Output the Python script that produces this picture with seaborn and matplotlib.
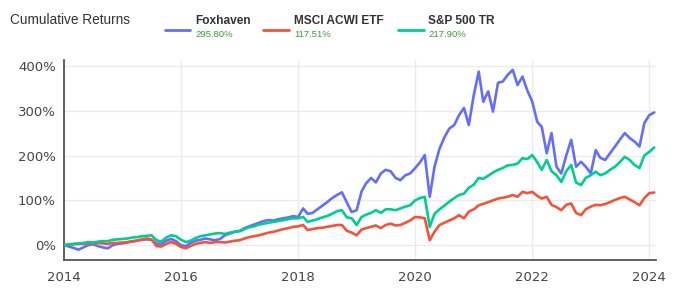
import numpy as np
import pandas as pd
import matplotlib
matplotlib.use("Agg")
import matplotlib.pyplot as plt
import matplotlib.dates as mdates
from matplotlib.lines import Line2D
from matplotlib.ticker import FuncFormatter
import seaborn as sns

# ---- data (monthly, % cumulative return) ----
dates = pd.date_range("2014-01-01", "2024-02-01", freq="MS")

foxhaven = [
    0, -3, -6, -10, -5, 0, 2, -2, -5, -7, 0, 3,            # 2014
    4, 6, 8, 10, 12, 13, 12, 4, 3, 10, 14, 9,              # 2015
    0, -2, 5, 10, 12, 15, 13, 11, 14, 22, 26, 30,          # 2016
    32, 38, 42, 46, 50, 54, 56, 55, 58, 60, 62, 65,        # 2017
    63, 82, 70, 72, 80, 88, 96, 105, 112, 118, 95, 74,     # 2018
    78, 120, 138, 150, 140, 160, 168, 165, 150, 145, 156, 160,  # 2019
    172, 185, 201, 108, 175, 215, 240, 260, 268, 290, 306, 268,  # 2020
    335, 387, 320, 343, 298, 362, 365, 380, 391, 357, 376, 345,  # 2021
    320, 275, 264, 205, 250, 175, 160, 200, 235, 175, 186, 175,  # 2022
    160, 212, 195, 190, 205, 220, 235, 250, 239, 231, 220, 272,  # 2023
    290, 296,                                               # 2024
]
msci_acwi = [
    0, 1, 2, 3, 3, 4, 3, 5, 4, 3, 5, 5,
    6, 7, 9, 10, 13, 15, 13, -2, -3, 3, 7, 3,
    -4, -7, -2, 3, 5, 7, 5, 7, 7, 6, 8, 10,
    11, 15, 18, 20, 22, 25, 28, 30, 33, 36, 38, 41,
    42, 45, 34, 36, 38, 39, 41, 43, 45, 45, 32, 28,
    22, 35, 38, 41, 44, 38, 45, 48, 44, 45, 50, 55,
    63, 62, 60, 11, 30, 45, 50, 55, 60, 67, 60, 75,
    80, 89, 92, 96, 100, 104, 106, 108, 112, 108, 119, 116,
    119, 110, 104, 108, 90, 85, 78, 90, 93, 72, 67, 80,
    86, 90, 89, 92, 96, 101, 105, 108, 102, 96, 89, 105,
    116, 117.5,
]
sp500_tr = [
    0, 2, 3, 4, 5, 7, 6, 8, 9, 9, 12, 13,
    14, 15, 17, 18, 20, 21, 22, 11, 8, 17, 22, 20,
    12, 7, 10, 16, 20, 22, 24, 26, 27, 25, 28, 30,
    31, 36, 40, 42, 46, 48, 50, 52, 54, 56, 58, 60,
    60, 63, 52, 55, 58, 62, 65, 70, 76, 78, 62, 60,
    45, 63, 68, 72, 78, 72, 80, 80, 78, 82, 86, 89,
    100, 105, 108, 41, 70, 80, 88, 97, 105, 112, 115, 128,
    135, 150, 148, 155, 162, 168, 172, 178, 179, 182, 194, 192,
    201, 185, 168, 190, 165, 156, 141, 165, 179, 140, 134, 150,
    156, 164, 156, 160, 168, 175, 185, 197, 190, 179, 172, 200,
    208, 217.9,
]
series_names = ["Foxhaven", "MSCI ACWI ETF", "S&P 500 TR"]
final_labels = ["295.80%", "117.51%", "217.90%"]
colors = ["#636efa", "#ef553b", "#00cc96"]
year_ticks = [2014, 2016, 2018, 2020, 2022, 2024]
y_ticks = [0, 100, 200, 300, 400]

df = pd.concat([
    pd.DataFrame({"date": dates, "value": v, "series": n})
    for v, n in zip([foxhaven, msci_acwi, sp500_tr], series_names)
])

sns.set_theme(style="white")
plt.rcParams["font.family"] = ["DejaVu Sans"]

fig = plt.figure(figsize=(6.78, 3.04), dpi=100)
W, H = 678, 304
ax = fig.add_axes([64 / W, 1 - 260 / H, (656 - 64) / W, (260 - 60) / H])

sns.lineplot(data=df, x="date", y="value", hue="series",
             hue_order=series_names, palette=colors, linewidth=1.9,
             legend=False, ax=ax, zorder=3)

ax.set_xlim(pd.Timestamp("2014-01-01"), pd.Timestamp("2024-02-12"))
ax.set_ylim(-33, 413)
ax.set_xticks([pd.Timestamp(f"{y}-01-01") for y in year_ticks])
ax.xaxis.set_major_formatter(mdates.DateFormatter("%Y"))
ax.set_yticks(y_ticks)
ax.yaxis.set_major_formatter(FuncFormatter(lambda v, p: f"{int(v)}%"))
ax.set_xlabel("")
ax.set_ylabel("")

ax.grid(True, color="#ebebeb", linewidth=1.0, zorder=0)
for s in ["top", "right"]:
    ax.spines[s].set_visible(False)
for s in ["left", "bottom"]:
    ax.spines[s].set_color("#555555")
    ax.spines[s].set_linewidth(1.3)
ax.tick_params(axis="both", which="major", direction="out", length=4,
               width=1, color="#555555", labelcolor="#444444", labelsize=9.5)
ax.tick_params(axis="y", pad=2)
ax.tick_params(axis="x", pad=4)

# title
fig.text(10 / W, 1 - 19.5 / H, "Cumulative Returns", ha="left", va="center",
         fontsize=9.8, color="#333333", family=["Liberation Sans", "DejaVu Sans"])

# legend
legend_x = [(165, 190, 195), (263, 289, 294), (398, 424, 428)]
for (x0, x1, xt), name, lab, c in zip(legend_x, series_names, final_labels, colors):
    fig.lines.append(Line2D([x0 / W, x1 / W], [1 - 29.5 / H, 1 - 29.5 / H],
                            transform=fig.transFigure, color=c, linewidth=2))
    fig.text(xt / W, 1 - 21 / H, name, ha="left", va="center", fontsize=8.6,
             fontweight="bold", color="#333333", family=["Liberation Sans", "DejaVu Sans"])
    fig.text(xt / W, 1 - 34.5 / H, lab, ha="left", va="center", fontsize=6.8,
             color="#3c9a3c", family=["Liberation Sans", "DejaVu Sans"])

fig.savefig("out.png", dpi=100)
